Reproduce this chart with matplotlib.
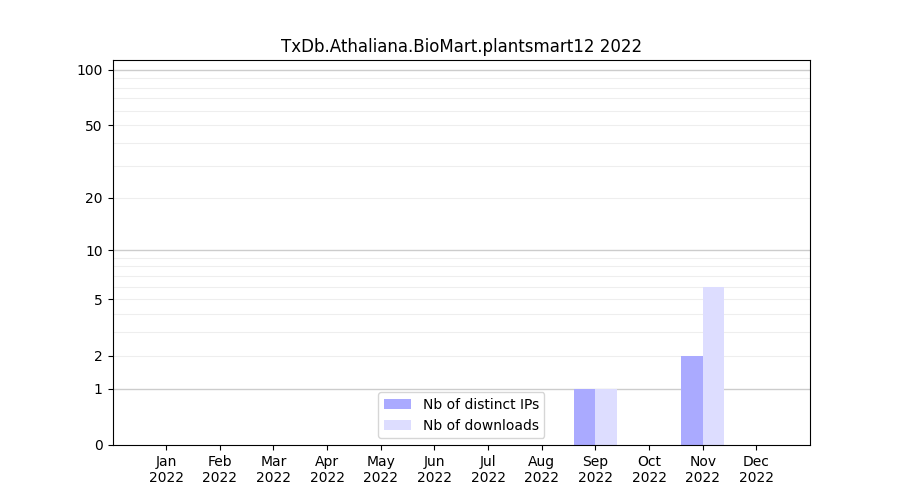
import numpy as np
import matplotlib
matplotlib.use("Agg")
import matplotlib.pyplot as plt

months = ["Jan\n2022", "Feb\n2022", "Mar\n2022", "Apr\n2022", "May\n2022", "Jun\n2022",
          "Jul\n2022", "Aug\n2022", "Sep\n2022", "Oct\n2022", "Nov\n2022", "Dec\n2022"]
nb_ips = [0, 0, 0, 0, 0, 0, 0, 0, 1, 0, 2, 0]
nb_downloads = [0, 0, 0, 0, 0, 0, 0, 0, 1, 0, 6, 0]
ytick_values = [0, 1, 2, 5, 10, 20, 50, 100]
major_grid = [1, 10, 100]
minor_grid = [2, 3, 4, 5, 6, 7, 8, 9, 20, 30, 40, 50, 60, 70, 80, 90]
title = "TxDb.Athaliana.BioMart.plantsmart12 2022"

fig, ax = plt.subplots(figsize=(9, 5), dpi=100)
ax.set_yscale('function', functions=(lambda y: np.log10(1 + np.maximum(y, 0)),
                                     lambda v: 10 ** v - 1))
x = np.arange(1, len(months) + 1)
for v in minor_grid:
    ax.axhline(v, color='#eeeeee', lw=0.8, zorder=0)
for v in major_grid:
    ax.axhline(v, color='#cccccc', lw=1.0, zorder=0)
ax.bar(x, nb_ips, width=-0.4, align='edge', color='#aaaaff', label='Nb of distinct IPs', zorder=2)
ax.bar(x, nb_downloads, width=0.4, align='edge', color='#ddddff', label='Nb of downloads', zorder=2)
ax.set_xticks(x)
ax.set_xticklabels(months)
ax.set_xlim(0, 13)
ax.set_ylim(0, 113)
ax.set_yticks(ytick_values)
ax.set_yticklabels([str(v) for v in ytick_values])
ax.yaxis.set_minor_locator(matplotlib.ticker.NullLocator())
ax.set_title(title)
ax.legend(loc='lower center')
fig.savefig("out.png", dpi=100)
